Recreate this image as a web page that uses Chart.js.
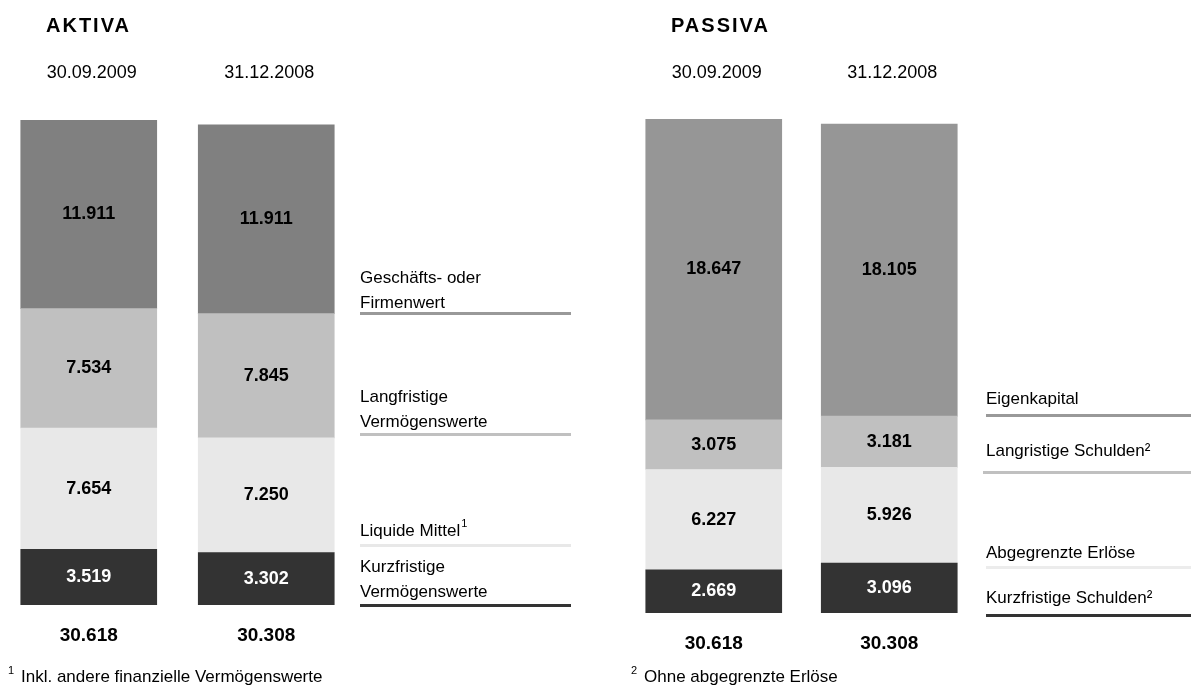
<!DOCTYPE html>
<html>
<head>
<meta charset="utf-8">
<script src="https://cdn.jsdelivr.net/npm/chart.js@4/dist/chart.umd.min.js"></script>
<style>
  body { margin: 0; background: #fff; }
  canvas { position: absolute; top: 0; }
  #aktiva { left: 0; }
  #passiva { left: 600px; }
</style>
</head>
<body>
<canvas id="aktiva" width="600" height="688"></canvas>
<canvas id="passiva" width="591" height="688"></canvas>
<script>
// Stichtage
const dates = ['30.09.2009', '31.12.2008'];

// Aktiva (Mio. EUR), von unten nach oben
const kurzfristigeVW = [3519, 3302];
const liquideMittel = [7654, 7250];
const langfristigeVW = [7534, 7845];
const firmenwert = [11911, 11911];
const aktivaTotal = [30618, 30308];

// Passiva, von unten nach oben
const kurzSchulden = [2669, 3096];
const abgegrenzt = [6227, 5926];
const langSchulden = [3075, 3181];
const eigenkapital = [18647, 18105];
const passivaTotal = [30618, 30308];

const FONT = '"Liberation Sans", Arial, sans-serif';

function fmt(n) {
    return String(n).replace(/\B(?=(\d{3})+(?!\d))/g, '.');
}

// Werte in die Segmente schreiben + Beschriftungen rundherum
const textPlugin = {
    id: 'texts',
    afterDatasetsDraw(chart, args, opts) {
        const ctx = chart.ctx;
        ctx.save();
        ctx.textAlign = 'center';
        ctx.textBaseline = 'middle';
        ctx.font = 'bold 18px ' + FONT;
        chart.data.datasets.forEach((ds, i) => {
            chart.getDatasetMeta(i).data.forEach((bar, j) => {
                ctx.fillStyle = ds.textColor;
                ctx.fillText(fmt(ds.data[j]), bar.x, (bar.y + bar.base) / 2);
            });
        });

        const xs = chart.getDatasetMeta(0).data.map(b => b.x);

        // Titel
        ctx.textAlign = 'left';
        ctx.fillStyle = '#000';
        ctx.font = 'bold 20px ' + FONT;
        ctx.letterSpacing = '2px';
        ctx.fillText(opts.title, opts.titleX, 26);
        ctx.letterSpacing = '0px';

        // Datum über den Balken
        ctx.textAlign = 'center';
        ctx.font = '18px ' + FONT;
        dates.forEach((d, j) => ctx.fillText(d, xs[j] + 3, 73));

        // Summen unter den Balken
        ctx.font = 'bold 19px ' + FONT;
        opts.totals.forEach((t, j) => ctx.fillText(fmt(t), xs[j], opts.totalY));

        // Legende rechts mit Unterstrichen
        ctx.textAlign = 'left';
        opts.legend.forEach(item => {
            ctx.fillStyle = '#000';
            ctx.font = '17px ' + FONT;
            item.lines.forEach((line, k) => {
                ctx.fillText(line, opts.legendX, item.textY + k * 25);
            });
            if (item.sup) {
                const w = ctx.measureText(item.lines[0]).width;
                ctx.font = '11px ' + FONT;
                ctx.fillText(item.sup, opts.legendX + w + 1, item.textY - 7);
            }
            ctx.fillStyle = item.color;
            ctx.fillRect(item.x1 - chart.canvas.offsetLeft, item.lineY - 1, item.x2 - item.x1, 3);
        });

        // Fußnote
        ctx.fillStyle = '#000';
        ctx.font = '11px ' + FONT;
        ctx.fillText(opts.noteMark, opts.noteX, 671);
        ctx.font = '17px ' + FONT;
        ctx.fillText(opts.note, opts.noteX + 13, 677);
        ctx.restore();
    }
};

function makeChart(id, datasets, padding, texts) {
    new Chart(document.getElementById(id), {
        type: 'bar',
        data: { labels: dates, datasets: datasets },
        options: {
            responsive: false,
            animation: false,
            layout: { padding: padding },
            scales: {
                x: { stacked: true, display: false },
                y: { stacked: true, display: false, min: 0, max: Math.max(...texts.totals) }
            },
            plugins: {
                legend: { display: false },
                tooltip: { enabled: false },
                texts: texts
            }
        },
        plugins: [textPlugin]
    });
}

function seg(label, data, color, textColor) {
    return { label: label, data: data, backgroundColor: color, textColor: textColor,
             barThickness: 136, borderWidth: 0 };
}

makeChart('aktiva', [
    seg('Kurzfristige Vermögenswerte', kurzfristigeVW, '#333333', '#ffffff'),
    seg('Liquide Mittel', liquideMittel, '#e8e8e8', '#000000'),
    seg('Langfristige Vermögenswerte', langfristigeVW, '#c0c0c0', '#000000'),
    seg('Geschäfts- oder Firmenwert', firmenwert, '#808080', '#000000')
], { left: 0, right: 245, top: 120, bottom: 83 }, {
    title: 'AKTIVA', titleX: 46, totals: aktivaTotal, totalY: 636,
    legendX: 360,
    legend: [
        { lines: ['Geschäfts- oder', 'Firmenwert'], textY: 278, lineY: 313, color: '#999999', x1: 360, x2: 571 },
        { lines: ['Langfristige', 'Vermögenswerte'], textY: 397, lineY: 434, color: '#c0c0c0', x1: 360, x2: 571 },
        { lines: ['Liquide Mittel'], sup: '1', textY: 531, lineY: 545, color: '#e8e8e8', x1: 360, x2: 571 },
        { lines: ['Kurzfristige', 'Vermögenswerte'], textY: 567, lineY: 605, color: '#333333', x1: 360, x2: 571 }
    ],
    noteMark: '1', noteX: 8, note: 'Inkl. andere finanzielle Vermögenswerte'
});

makeChart('passiva', [
    seg('Kurzfristige Schulden²', kurzSchulden, '#333333', '#ffffff'),
    seg('Abgegrenzte Erlöse', abgegrenzt, '#e8e8e8', '#000000'),
    seg('Langristige Schulden²', langSchulden, '#c0c0c0', '#000000'),
    seg('Eigenkapital', eigenkapital, '#969696', '#000000')
], { left: 26, right: 214, top: 119, bottom: 75 }, {
    title: 'PASSIVA', titleX: 71, totals: passivaTotal, totalY: 644,
    legendX: 386,
    legend: [
        { lines: ['Eigenkapital'], textY: 399, lineY: 415, color: '#999999', x1: 986, x2: 1191 },
        { lines: ['Langristige Schulden²'], textY: 451, lineY: 472, color: '#c0c0c0', x1: 983, x2: 1191 },
        { lines: ['Abgegrenzte Erlöse'], textY: 553, lineY: 567, color: '#ececec', x1: 986, x2: 1191 },
        { lines: ['Kurzfristige Schulden²'], textY: 598, lineY: 615, color: '#333333', x1: 986, x2: 1191 }
    ],
    noteMark: '2', noteX: 31, note: 'Ohne abgegrenzte Erlöse'
});
</script>
</body>
</html>
